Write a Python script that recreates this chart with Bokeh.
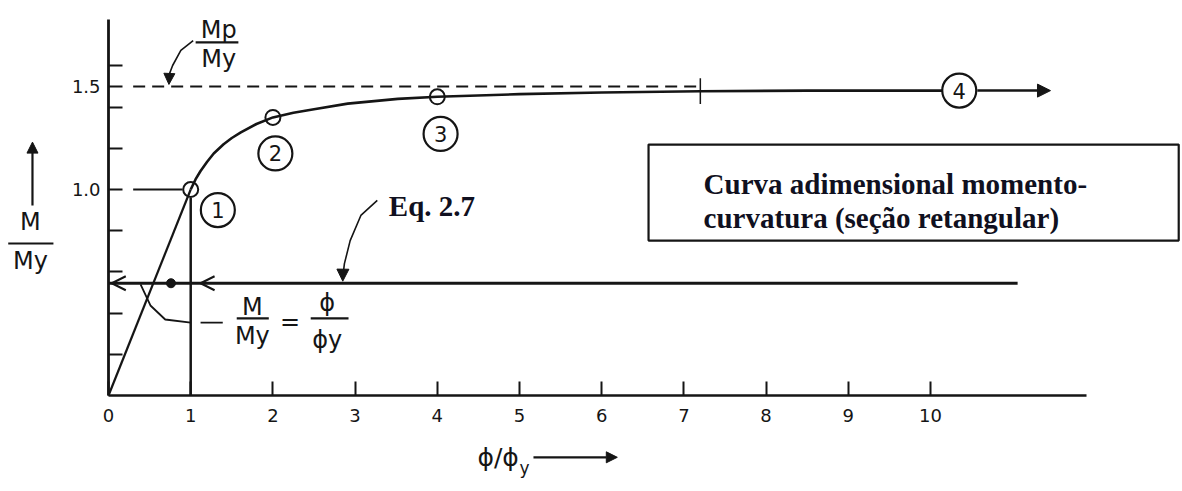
from bokeh.plotting import figure
from bokeh.models import (LinearAxis, FixedTicker, Label, Arrow, NormalHead,
                          OpenHead, Range1d)
from bokeh.core.properties import value
from bokeh.embed import file_html
from bokeh.resources import INLINE

# --- axis ticks -------------------------------------------------------------
x_ticks = [0, 1, 2, 3, 4, 5, 6, 7, 8, 9, 10]
y_ticks = [0.2, 0.4, 0.6, 0.8, 1.0, 1.2, 1.4, 1.5, 1.6]
y_tick_labels = {1.0: "1.0", 1.5: "1.5"}

# --- elastic branch: M/My = phi/phiy ----------------------------------------
elastic_phi = [0.0, 1.0]
elastic_m = [0.0, 1.0]

# --- inelastic branch of the moment-curvature curve -------------------------
curve_phi = [1.0, 1.06, 1.12, 1.2, 1.28, 1.4, 1.5, 1.61, 1.8, 2.0, 2.25, 2.5,
             2.91, 3.52, 4.0, 5.0, 6.0, 7.2, 8.5, 10.14]
curve_m = [1.0, 1.05, 1.09, 1.135, 1.175, 1.22, 1.25, 1.277, 1.318, 1.35, 1.373,
           1.39, 1.417, 1.44, 1.45, 1.463, 1.471, 1.477, 1.48, 1.48]

# stages 1..4 along the curve
stage_phi = [1.0, 2.0, 4.0]
stage_m = [1.0, 1.35, 1.45]
stage4_phi = 10.35
stage4_m = 1.48
arrow_end_phi = 11.46

mp_ratio = 1.5        # Mp / My
eq_level = 0.545      # level marked "Eq. 2.7"
yield_phi = 1.0
tick_phi = 7.2        # short mark across the curve

INK = "#151515"
SERIF_INK = "#101020"

p = figure(width=1182, height=491,
           x_range=Range1d(-1.314, 13.066), y_range=Range1d(-0.466, 1.9175),
           x_axis_type=None, y_axis_type=None,
           min_border=0, output_backend="svg", toolbar_location=None)
p.outline_line_color = None
p.background_fill_color = "white"
p.border_fill_color = "white"

# axes pinned at the origin, ticks pointing inward
xaxis = LinearAxis(ticker=FixedTicker(ticks=x_ticks), bounds=(0, 11.9),
                   fixed_location=0,
                   axis_line_color=INK, axis_line_width=2.6,
                   major_tick_in=14, major_tick_out=0,
                   major_tick_line_color=INK, major_tick_line_width=2,
                   minor_tick_line_color=None,
                   major_label_standoff=13,
                   major_label_text_font="DejaVu Sans",
                   major_label_text_font_size="18px",
                   major_label_text_color=INK)
p.add_layout(xaxis, "below")

yaxis = LinearAxis(ticker=FixedTicker(ticks=y_ticks), bounds=(0, 1.825),
                   fixed_location=0,
                   axis_line_color=INK, axis_line_width=2.8,
                   major_tick_in=14, major_tick_out=0,
                   major_tick_line_color=INK, major_tick_line_width=2,
                   minor_tick_line_color=None,
                   major_label_overrides={t: y_tick_labels.get(t, "") for t in y_ticks},
                   major_label_standoff=8,
                   major_label_text_font="DejaVu Sans",
                   major_label_text_font_size="18px",
                   major_label_text_color=INK)
p.add_layout(yaxis, "left")

# plastic moment asymptote (dashed)
p.line([0.3, tick_phi], [mp_ratio, mp_ratio], line_color=INK, line_width=2.2,
       line_dash="12 7")

# yield reference lines
p.line([0.3, 0.9], [1.0, 1.0], line_color=INK, line_width=2)
p.line([yield_phi, yield_phi], [0, 0.96], line_color=INK, line_width=2.5)

# elastic and inelastic branches
p.line(elastic_phi, elastic_m, line_color=INK, line_width=2.2)
p.line(curve_phi, curve_m, line_color=INK, line_width=2.6)
p.add_layout(Arrow(end=NormalHead(size=13, fill_color=INK, line_color=INK),
                   x_start=stage4_phi + 0.22, y_start=stage4_m,
                   x_end=arrow_end_phi, y_end=stage4_m,
                   line_color=INK, line_width=2.5))
p.line([tick_phi, tick_phi], [1.415, 1.54], line_color=INK, line_width=1.5)

# stage markers on the curve
p.scatter(stage_phi, stage_m, marker="circle", size=15, fill_color=None,
          line_color=INK, line_width=2)

# circled stage numbers
circ_x = [1.33, 2.03, 4.04, stage4_phi]
circ_y = [0.90, 1.175, 1.27, stage4_m]
circ_txt = ["1", "2", "3", "4"]
p.scatter(circ_x, circ_y, marker="circle", size=34, fill_color="white",
          line_color=INK, line_width=2.2)
p.text(circ_x, circ_y, text=circ_txt, text_align="center",
       text_baseline="middle", text_font=value("DejaVu Sans"),
       text_font_size="21px", text_color=INK)

# Eq. 2.7 level with its arrowheads
p.line([0, 11.06], [eq_level, eq_level], line_color=INK, line_width=2.8)
p.add_layout(Arrow(end=OpenHead(size=14, line_color=INK, line_width=2),
                   x_start=0.4, y_start=eq_level, x_end=0.04, y_end=eq_level,
                   line_color=None))
p.add_layout(Arrow(end=OpenHead(size=14, line_color=INK, line_width=2),
                   x_start=1.5, y_start=eq_level, x_end=1.12, y_end=eq_level,
                   line_color=None))
p.scatter([0.76], [eq_level], marker="circle", size=9, fill_color=INK,
          line_color=INK)

# leader "Eq. 2.7"
p.line([3.27, 3.07, 2.94, 2.87, 2.85], [0.947, 0.874, 0.752, 0.64, 0.575],
       line_color=INK, line_width=1.6)
p.add_layout(Arrow(end=NormalHead(size=12, fill_color=INK, line_color=INK),
                   x_start=2.852, y_start=0.62, x_end=2.85, y_end=eq_level + 0.01,
                   line_color=None))
p.add_layout(Label(x=3.41, y=0.922, text="Eq. 2.7", text_font="Liberation Serif",
                   text_font_style="bold", text_font_size="29px",
                   text_color=SERIF_INK, text_baseline="alphabetic"))

# leader for M/My = phi/phiy
p.line([0.39, 0.51, 0.69, 1.0], [0.539, 0.437, 0.369, 0.354],
       line_color=INK, line_width=1.8)
p.line([1.12, 1.39], [0.354, 0.354], line_color=INK, line_width=1.8)

# Mp/My callout
p.line([1.03, 0.88, 0.78, 0.74], [1.723, 1.675, 1.602, 1.56],
       line_color=INK, line_width=1.6)
p.add_layout(Arrow(end=NormalHead(size=11, fill_color=INK, line_color=INK),
                   x_start=0.742, y_start=1.58, x_end=0.735, y_end=mp_ratio + 0.01,
                   line_color=None))


def fraction(xc, y_top, y_bar, y_bot, num, den, x0, x1, size="24px"):
    p.add_layout(Label(x=xc, y=y_top, text=num, text_align="center",
                       text_baseline="middle", text_font="DejaVu Sans",
                       text_font_size=size, text_color=INK))
    p.add_layout(Label(x=xc, y=y_bot, text=den, text_align="center",
                       text_baseline="middle", text_font="DejaVu Sans",
                       text_font_size=size, text_color=INK))
    p.line([x0, x1], [y_bar, y_bar], line_color=INK, line_width=2.2)


fraction(1.34, 1.772, 1.714, 1.632, "Mp", "My", 1.06, 1.58)

# M/My = phi/phiy
fraction(1.75, 0.432, 0.374, 0.29, "M", "My", 1.56, 1.95)
p.add_layout(Label(x=2.21, y=0.357, text="=", text_align="center",
                   text_baseline="middle", text_font="DejaVu Sans",
                   text_font_size="24px", text_color=INK))
fraction(2.66, 0.447, 0.374, 0.27, "ϕ", "ϕy", 2.46, 2.92)

# vertical axis title: arrow and M/My
p.add_layout(Arrow(end=NormalHead(size=11, fill_color=INK, line_color=INK),
                   x_start=-0.925, y_start=0.922, x_end=-0.925, y_end=1.23,
                   line_color=INK, line_width=2.2))
fraction(-0.95, 0.84, 0.738, 0.655, "M", "My", -1.22, -0.67)

# horizontal axis title
p.add_layout(Label(x=4.74, y=-0.3, text="ϕ/ϕ", text_align="center",
                   text_baseline="middle", text_font="DejaVu Sans",
                   text_font_size="25px", text_color=INK))
p.add_layout(Label(x=5.06, y=-0.35, text="y", text_align="center",
                   text_baseline="middle", text_font="DejaVu Sans",
                   text_font_size="17px", text_color=INK))
p.add_layout(Arrow(end=NormalHead(size=11, fill_color=INK, line_color=INK),
                   x_start=5.17, y_start=-0.30, x_end=6.19, y_end=-0.30,
                   line_color=INK, line_width=2.2))

# caption box
p.quad(left=[6.57], right=[13.02], top=[1.218], bottom=[0.752],
       fill_color="white", line_color=INK, line_width=2.2)
p.add_layout(Label(x=7.24, y=1.029, text="Curva adimensional momento-",
                   text_font="Liberation Serif", text_font_style="bold",
                   text_font_size="29px", text_color=SERIF_INK,
                   text_baseline="alphabetic"))
p.add_layout(Label(x=7.24, y=0.864, text="curvatura (seção retangular)",
                   text_font="Liberation Serif", text_font_style="bold",
                   text_font_size="29px", text_color=SERIF_INK,
                   text_baseline="alphabetic"))

open("out.html", "w").write(file_html(p, INLINE))
